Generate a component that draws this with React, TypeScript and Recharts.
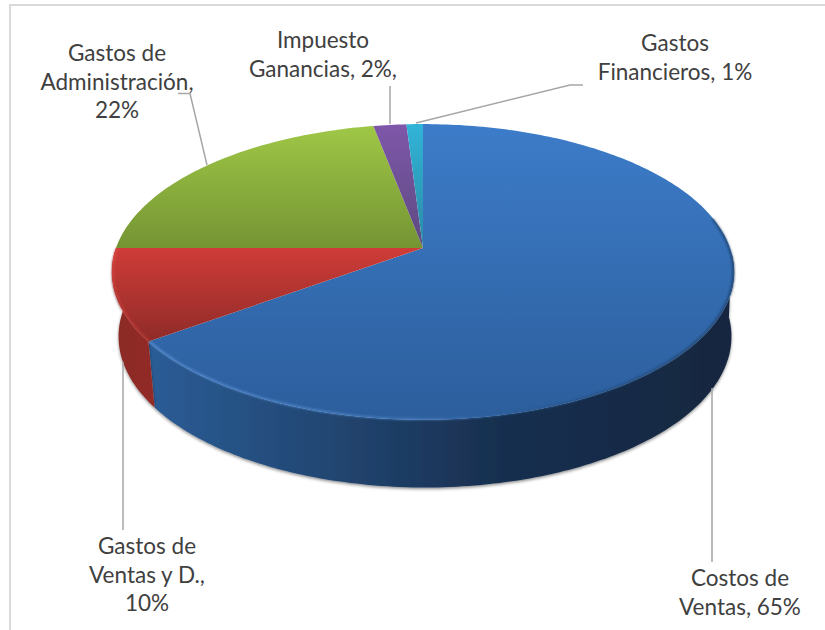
import React from 'react';
import { PieChart, Pie, Cell } from 'recharts';

const categories = ['Costos de Ventas', 'Gastos de Ventas y D.', 'Gastos de Administración', 'Impuesto Ganancias', 'Gastos Financieros'];
const shares = [65, 10, 22, 2, 1];
const labelText = [
  ['Costos de', 'Ventas, 65%'],
  ['Gastos de', 'Ventas y D.,', '10%'],
  ['Gastos de', 'Administración,', '22%'],
  ['Impuesto', 'Ganancias, 2%,'],
  ['Gastos', 'Financieros, 1%'],
];

const W = 825;
const H = 630;
const CX = 423;
const CY = 248;
const RADIUS = 307;

// label placement: centre x, first baseline, leader polyline
const labelBox = [
  { x: 740, y: 586, leader: '712,562 712,388' },
  { x: 147, y: 554, leader: '123,530 123,362' },
  { x: 117, y: 61, leader: '178,93.5 190,93.5 207,165' },
  { x: 323, y: 48, leader: '390,86 390,124' },
  { x: 675, y: 51, leader: '583,85 570,85 416,123' },
];
const LINE_H = 28.6;

const topStops = [
  ['#3d7cc9', '#2c5e9c'],
  ['#cf3c38', '#8f2b28'],
  ['#9fc746', '#749433'],
  ['#7f57aa', '#5c4a80'],
  ['#31b4d8', '#2a8aa5'],
];

// perspective of the tilted disc
const P = 0.162;
const rad = (d: number) => (d * Math.PI) / 180;

function topPoint(cx: number, cy: number, r: number, t: number) {
  const X = Math.sin(rad(t));
  const Y = Math.cos(rad(t));
  const w = 1 + P * Y;
  return [cx + (r * X) / w, cy - (r * 0.469 * Y) / w];
}

function lowPoint(cx: number, cy: number, r: number, t: number) {
  const X = Math.sin(rad(t));
  const Y = Math.cos(rad(t));
  const w = 1 + P * Y;
  return [cx + 2 + (r * 0.985 * X) / w, cy + 64 - (r * 0.479 * Y) / w];
}

function arc(fn: typeof topPoint, cx: number, cy: number, r: number, from: number, to: number) {
  const n = Math.max(2, Math.ceil(Math.abs(to - from)));
  const pts: string[] = [];
  for (let i = 0; i <= n; i++) {
    const p = fn(cx, cy, r, from + ((to - from) * i) / n);
    pts.push(`${p[0].toFixed(1)} ${p[1].toFixed(1)}`);
  }
  return pts;
}

function WallSector(props: any) {
  const { cx, cy, outerRadius, startAngle, endAngle, fill } = props;
  const a = Math.max(90 - startAngle, 92);
  const b = Math.min(90 - endAngle, 270);
  if (b <= a) return <g />;
  const up = arc(topPoint, cx, cy, outerRadius, a, b);
  const low = arc(lowPoint, cx, cy, outerRadius, b, a);
  return <path d={`M${up.join('L')}L${low.join('L')}Z`} fill={fill} filter="url(#wallShadow)" />;
}

function TopSector(props: any) {
  const { cx, cy, outerRadius, startAngle, endAngle, fill, index } = props;
  const a = 90 - startAngle;
  const b = 90 - endAngle;
  const pts = arc(topPoint, cx, cy, outerRadius, a, b);
  return (
    <g>
      <path d={`M${cx} ${cy}L${pts.join('L')}Z`} fill={fill} />
      {index < 2 && (
        <path
          d={`M${arc(topPoint, cx, cy, outerRadius - 1, index === 0 ? Math.max(a, 78) : a, index === 1 ? Math.min(b, 285) : b).join('L')}`}
          fill="none"
          stroke={`url(#rim${index})`}
          strokeWidth={1.6}
          filter="url(#soft)"
        />
      )}
    </g>
  );
}

function renderLabel(props: any) {
  const i = props.index;
  const box = labelBox[i];
  return (
    <g key={i}>
      <polyline points={box.leader} fill="none" stroke="#a6a6a6" strokeWidth={1.5} />
      <text x={box.x} y={box.y} textAnchor="middle" fontFamily="Lato, sans-serif" fontSize={22.5} fill="#404040">
        {labelText[i].map((line, k) => (
          <tspan key={k} x={box.x} y={box.y + k * LINE_H}>
            {line}
          </tspan>
        ))}
      </text>
    </g>
  );
}

const pieData = categories.map((name, i) => ({ name, value: shares[i] }));

export default function App() {
  return (
    <div style={{ position: 'absolute', left: 0, top: 0, width: W, height: H, overflow: 'hidden', background: '#fff' }}>
      <PieChart width={W} height={H} margin={{ top: 0, right: 0, bottom: 0, left: 0 }}>
        <defs>
          {topStops.map((c, i) => (
            <linearGradient key={i} id={`top${i}`} x1="0" y1="0" x2="0" y2="1">
              <stop offset="0" stopColor={c[0]} />
              <stop offset="1" stopColor={c[1]} />
            </linearGradient>
          ))}
          <linearGradient id="wall0" x1="0" y1="0" x2="1" y2="0">
            <stop offset="0" stopColor="#2b5c96" />
            <stop offset="0.3" stopColor="#224773" />
            <stop offset="0.6" stopColor="#182f4f" />
            <stop offset="1" stopColor="#14273f" />
          </linearGradient>
          <linearGradient id="wall1" x1="0" y1="0" x2="1" y2="0">
            <stop offset="0" stopColor="#8a2a26" />
            <stop offset="1" stopColor="#922b27" />
          </linearGradient>
          <linearGradient id="rim0" gradientUnits="userSpaceOnUse" x1="150" y1="0" x2="735" y2="0">
            <stop offset="0" stopColor="#5a92d8" />
            <stop offset="0.45" stopColor="#4a82c6" />
            <stop offset="0.6" stopColor="#2c5e9c" />
            <stop offset="0.9" stopColor="#213f66" />
            <stop offset="1" stopColor="#1e3a5e" />
          </linearGradient>
          <linearGradient id="rim1" x1="0" y1="0" x2="0" y2="1">
            <stop offset="0" stopColor="#dd4a46" />
            <stop offset="1" stopColor="#b93733" />
          </linearGradient>
          <filter id="soft" x="-5%" y="-5%" width="110%" height="110%">
            <feGaussianBlur stdDeviation="0.8" />
          </filter>
          <filter id="wallShadow" x="-5%" y="-10%" width="110%" height="120%">
            <feDropShadow dx="0" dy="1.5" stdDeviation="1.5" floodColor="#000" floodOpacity="0.45" />
          </filter>
        </defs>
        <rect x={10} y={5} width={900} height={800} fill="none" stroke="#d9d9d9" strokeWidth={2} />
        <Pie
          data={pieData}
          dataKey="value"
          nameKey="name"
          cx={CX}
          cy={CY}
          outerRadius={RADIUS}
          startAngle={90}
          endAngle={-270}
          stroke="none"
          shape={WallSector}
          label={false}
          labelLine={false}
          isAnimationActive={false}
        >
          {pieData.map((d, i) => (
            <Cell key={d.name} fill={i < 2 ? `url(#wall${i})` : 'none'} />
          ))}
        </Pie>
        <Pie
          data={pieData}
          dataKey="value"
          nameKey="name"
          cx={CX}
          cy={CY}
          outerRadius={RADIUS}
          startAngle={90}
          endAngle={-270}
          stroke="none"
          shape={TopSector}
          label={renderLabel}
          labelLine={false}
          isAnimationActive={false}
        >
          {pieData.map((d, i) => (
            <Cell key={d.name} fill={`url(#top${i})`} />
          ))}
        </Pie>
      </PieChart>
    </div>
  );
}
